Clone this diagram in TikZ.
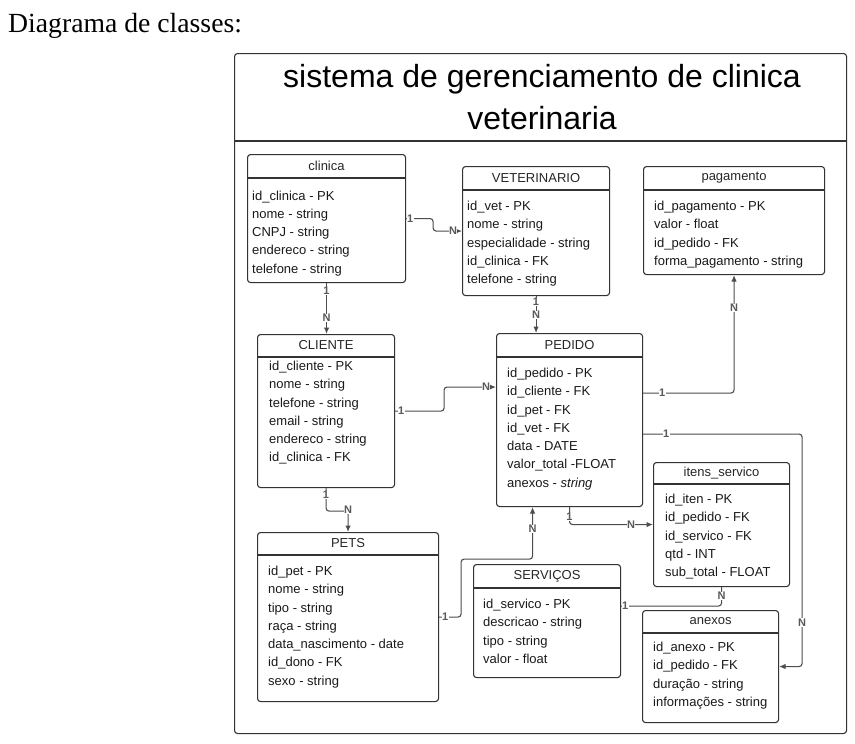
\documentclass[tikz,border=0pt]{standalone}
\usepackage{fontspec}
\setmainfont{Liberation Serif}
\setsansfont{Liberation Sans}
\usetikzlibrary{arrows.meta}

\begin{document}
\begin{tikzpicture}[x=1pt, y=-1pt,
	classbox/.style={draw=black!80, line width=1.1pt, rounded corners=3pt, anchor=north west, inner sep=0pt},
	headline/.style={draw=black!80, line width=1.5pt},
	head/.style={font=\sffamily\fontsize{13}{15}\selectfont, text=black!85},
	field/.style={font=\sffamily\fontsize{13}{18.25}\selectfont, text=black!90, align=left, anchor=north west, inner sep=0pt},
	rel/.style={draw=black!70, line width=1.1pt, rounded corners=3pt},
	relarrow/.style={rel, -{Latex[length=6.5pt, width=5.5pt]}},
	card/.style={font=\sffamily\bfseries\fontsize{11}{12}\selectfont, text=black!65, fill=white, inner sep=0.5pt}]
		\useasboundingbox (0,0) rectangle (855,744);
		\node[anchor=base west, inner sep=0pt, font=\fontsize{27.7}{30}\selectfont] (legenda) at (8,32) {Diagrama de classes:};
		% moldura e titulo
		\node[classbox, minimum width=612, minimum height=680] (frame) at (234,53) {};
		\draw[headline] ([yshift=-88pt]frame.north west) -- ([yshift=-88pt]frame.north east);
		\node[font=\sffamily\fontsize{32}{42}\selectfont, align=center, anchor=north, inner sep=0pt] (titulo) at ([xshift=1.5pt, yshift=-11pt]frame.north) {sistema de gerenciamento de clinica\\veterinaria};
		% clinica
		\node[classbox, minimum width=158, minimum height=128] (clinica) at (247,154) {};
		\draw[headline] ([yshift=-24pt]clinica.north west) -- ([yshift=-24pt]clinica.north east);
		\node[head] (clinica-t) at ([yshift=-12pt]clinica.north) {clinica};
		\node[field] (clinica-f) at ([xshift=5pt, yshift=-36.5pt]clinica.north west) {id\_clinica - PK\\nome - string\\CNPJ - string\\endereco - string\\telefone - string};
		% VETERINARIO
		\node[classbox, minimum width=147, minimum height=129] (vet) at (462,166) {};
		\draw[headline] ([yshift=-24pt]vet.north west) -- ([yshift=-24pt]vet.north east);
		\node[head] (vet-t) at ([yshift=-12pt]vet.north) {VETERINARIO};
		\node[field] (vet-f) at ([xshift=5pt, yshift=-35pt]vet.north west) {id\_vet - PK\\nome - string\\especialidade - string\\id\_clinica - FK\\telefone - string};
		% pagamento
		\node[classbox, minimum width=181, minimum height=108] (pagamento) at (643,166) {};
		\draw[headline] ([yshift=-24pt]pagamento.north west) -- ([yshift=-24pt]pagamento.north east);
		\node[head] (pagamento-t) at ([yshift=-12pt]pagamento.north) {pagamento};
		\node[field] (pagamento-f) at ([xshift=11pt, yshift=-35pt]pagamento.north west) {id\_pagamento - PK\\valor - float\\id\_pedido - FK\\forma\_pagamento - string};
		% CLIENTE
		\node[classbox, minimum width=137, minimum height=153] (cliente) at (257,334) {};
		\draw[headline] ([yshift=-23pt]cliente.north west) -- ([yshift=-23pt]cliente.north east);
		\node[head] (cliente-t) at ([yshift=-11.5pt]cliente.north) {CLIENTE};
		\node[field] (cliente-f) at ([xshift=12pt, yshift=-27pt]cliente.north west) {id\_cliente - PK\\nome - string\\telefone - string\\email - string\\endereco - string\\id\_clinica - FK};
		% PEDIDO
		\node[classbox, minimum width=146, minimum height=173] (pedido) at (496,333) {};
		\draw[headline] ([yshift=-24pt]pedido.north west) -- ([yshift=-24pt]pedido.north east);
		\node[head] (pedido-t) at ([yshift=-12pt]pedido.north) {PEDIDO};
		\node[field] (pedido-f) at ([xshift=11pt, yshift=-35pt]pedido.north west) {id\_pedido - PK\\id\_cliente - FK\\id\_pet - FK\\id\_vet - FK\\data - DATE\\valor\_total -FLOAT\\anexos - \textit{string}};
		% itens_servico
		\node[classbox, minimum width=136, minimum height=124] (itens) at (653,462) {};
		\draw[headline] ([yshift=-22pt]itens.north west) -- ([yshift=-22pt]itens.north east);
		\node[head] (itens-t) at ([yshift=-11pt]itens.north) {itens\_servico};
		\node[field] (itens-f) at ([xshift=12pt, yshift=-32pt]itens.north west) {id\_iten - PK\\id\_pedido - FK\\id\_servico - FK\\qtd - INT\\sub\_total - FLOAT};
		% SERVICOS
		\node[classbox, minimum width=147, minimum height=113] (servicos) at (473,564) {};
		\draw[headline] ([yshift=-24pt]servicos.north west) -- ([yshift=-24pt]servicos.north east);
		\node[head] (servicos-t) at ([yshift=-12pt]servicos.north) {SERVIÇOS};
		\node[field] (servicos-f) at ([xshift=10pt, yshift=-35pt]servicos.north west) {id\_servico - PK\\descricao - string\\tipo - string\\valor - float};
		% anexos
		\node[classbox, minimum width=136, minimum height=112] (anexos) at (642,610) {};
		\draw[headline] ([yshift=-23pt]anexos.north west) -- ([yshift=-23pt]anexos.north east);
		\node[head] (anexos-t) at ([yshift=-11.5pt]anexos.north) {anexos};
		\node[field] (anexos-f) at ([xshift=11pt, yshift=-32pt]anexos.north west) {id\_anexo - PK\\id\_pedido - FK\\duração - string\\informações - string};
		% PETS
		\node[classbox, minimum width=181, minimum height=169] (pets) at (257,532) {};
		\draw[headline] ([yshift=-23pt]pets.north west) -- ([yshift=-23pt]pets.north east);
		\node[head] (pets-t) at ([yshift=-11.5pt]pets.north) {PETS};
		\node[field] (pets-f) at ([xshift=11pt, yshift=-34pt]pets.north west) {id\_pet - PK\\nome - string\\tipo - string\\raça - string\\data\_nascimento - date\\id\_dono - FK\\sexo - string};
		% relacionamentos
		\draw[relarrow] (clinica.east) -- ++(27,0) |- (vet.west);
		\draw[relarrow] (clinica.south) -- (clinica.south |- cliente.north);
		\draw[relarrow] (vet.south) -- (vet.south |- pedido.north);
		\draw[relarrow] (cliente.east) -- ++(49,0) |- ([yshift=33pt]pedido.west);
		\draw[relarrow] (cliente.south) -- ++(0,23) -| (pets.north);
		\draw[relarrow] (pets.east) -- ++(22,0) |- ([xshift=-37pt, yshift=-52pt]pedido.south) -- ([xshift=-37pt]pedido.south);
		\draw[relarrow] (pedido.south) |- (itens.west);
		\draw[rel] ([yshift=15pt]servicos.east) -| (itens.south);
		\draw[relarrow] ([yshift=27pt]pedido.east) -| (pagamento.south);
		\draw[relarrow] ([yshift=-14pt]pedido.east) -- ++(159,0) |- (anexos.east);
		% cardinalidades
		\node[card] (c1a) at ([xshift=4pt]clinica.east) {1};
		\node[card] (c1b) at ([xshift=-9pt]vet.west) {N};
		\node[card] (c2a) at ([yshift=-8pt]clinica.south) {1};
		\node[card] (c2b) at ([yshift=16pt]clinica.south |- cliente.north) {N};
		\node[card] (c3a) at ([yshift=-6pt]vet.south) {1};
		\node[card] (c3b) at ([yshift=-19pt]vet.south) {N};
		\node[card] (c4a) at ([xshift=6pt]cliente.east) {1};
		\node[card] (c4b) at ([xshift=-10pt, yshift=33pt]pedido.west) {N};
		\node[card] (c5a) at ([yshift=-7pt]cliente.south) {1};
		\node[card] (c5b) at ([yshift=22pt]pets.north) {N};
		\node[card] (c6a) at ([xshift=6pt]pets.east) {1};
		\node[card] (c6b) at ([xshift=-37pt, yshift=-22pt]pedido.south) {N};
		\node[card] (c7a) at ([yshift=-10pt]pedido.south) {1};
		\node[card] (c7b) at ([xshift=-22pt]itens.west) {N};
		\node[card] (c8a) at ([xshift=4pt, yshift=15pt]servicos.east) {1};
		\node[card] (c8b) at ([yshift=-9pt]itens.south) {N};
		\node[card] (c9a) at ([xshift=19pt, yshift=27pt]pedido.east) {1};
		\node[card] (c9b) at ([yshift=-33pt]pagamento.south) {N};
		\node[card] (c10a) at ([xshift=23pt, yshift=-14pt]pedido.east) {1};
		\node[card] (c10b) at ([xshift=23pt, yshift=44pt]anexos.east) {N};
	\end{tikzpicture}
\end{document}
